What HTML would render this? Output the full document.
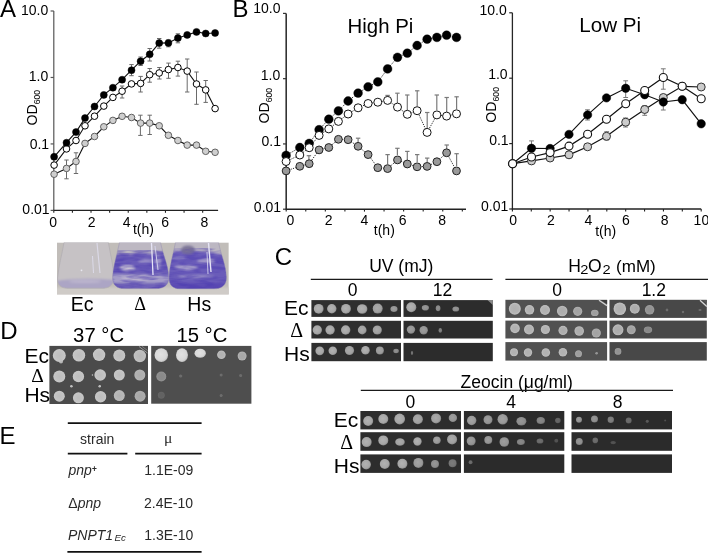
<!DOCTYPE html>
<html><head><meta charset="utf-8"><style>
html,body{margin:0;padding:0;background:#fff;}
body{width:708px;height:553px;overflow:hidden;position:relative;}
svg{position:absolute;left:0;top:0;will-change:transform;filter:blur(0.3px);}
svg text{font-family:"Liberation Sans",sans-serif;}
</style></head><body>
<svg width="708" height="553" viewBox="0 0 708 553">
<defs>
<radialGradient id="spA" cx="0.45" cy="0.45" r="0.6"><stop offset="0" stop-color="#b2b2b2"/><stop offset="0.7" stop-color="#a6a6a6"/><stop offset="1" stop-color="#808080"/></radialGradient>
<radialGradient id="spB" cx="0.5" cy="0.5" r="0.55"><stop offset="0" stop-color="#bdbdbd"/><stop offset="0.7" stop-color="#c4c4c4"/><stop offset="0.9" stop-color="#c8c8c8"/><stop offset="1" stop-color="#a0a0a0"/></radialGradient>
<radialGradient id="spC" cx="0.5" cy="0.5" r="0.55"><stop offset="0" stop-color="#b0b0b0"/><stop offset="0.6" stop-color="#b4b4b4"/><stop offset="0.88" stop-color="#c0c0c0"/><stop offset="1" stop-color="#9a9a9a"/></radialGradient>
<radialGradient id="spD" cx="0.45" cy="0.45" r="0.6"><stop offset="0" stop-color="#e2e2e2"/><stop offset="0.7" stop-color="#d8d8d8"/><stop offset="1" stop-color="#b8b8b8"/></radialGradient>
<filter id="bl" x="-20%" y="-20%" width="140%" height="140%"><feGaussianBlur stdDeviation="0.55"/></filter>
<filter id="bl2" x="-30%" y="-30%" width="160%" height="160%"><feGaussianBlur stdDeviation="1.2"/></filter>
<filter id="bl3" x="-30%" y="-30%" width="160%" height="160%"><feGaussianBlur stdDeviation="2.2"/></filter>
</defs>
<text x="0.1" y="16.6" font-size="24" text-anchor="start" fill="#000" >A</text>
<text x="232.5" y="16.9" font-size="24" text-anchor="start" fill="#000" >B</text>
<text x="274.8" y="265.4" font-size="24" text-anchor="start" fill="#000" >C</text>
<text x="0.3" y="338.9" font-size="24" text-anchor="start" fill="#000" >D</text>
<text x="-0.4" y="443.9" font-size="24" text-anchor="start" fill="#000" >E</text>
<line x1="53.8" y1="11.0" x2="53.8" y2="210.4" stroke="#555" stroke-width="1.2"/>
<line x1="53.199999999999996" y1="210.4" x2="218.1" y2="210.4" stroke="#222" stroke-width="1.4"/>
<line x1="50.599999999999994" y1="11.00" x2="53.8" y2="11.00" stroke="#555" stroke-width="1.2"/>
<line x1="50.599999999999994" y1="77.47" x2="53.8" y2="77.47" stroke="#555" stroke-width="1.2"/>
<line x1="50.599999999999994" y1="143.93" x2="53.8" y2="143.93" stroke="#555" stroke-width="1.2"/>
<line x1="50.599999999999994" y1="210.40" x2="53.8" y2="210.40" stroke="#555" stroke-width="1.2"/>
<line x1="53.80" y1="210.4" x2="53.80" y2="212.8" stroke="#222" stroke-width="1.1"/>
<line x1="72.41" y1="210.4" x2="72.41" y2="212.8" stroke="#222" stroke-width="1.1"/>
<line x1="91.02" y1="210.4" x2="91.02" y2="212.8" stroke="#222" stroke-width="1.1"/>
<line x1="109.63" y1="210.4" x2="109.63" y2="212.8" stroke="#222" stroke-width="1.1"/>
<line x1="128.24" y1="210.4" x2="128.24" y2="212.8" stroke="#222" stroke-width="1.1"/>
<line x1="146.85" y1="210.4" x2="146.85" y2="212.8" stroke="#222" stroke-width="1.1"/>
<line x1="165.46" y1="210.4" x2="165.46" y2="212.8" stroke="#222" stroke-width="1.1"/>
<line x1="184.07" y1="210.4" x2="184.07" y2="212.8" stroke="#222" stroke-width="1.1"/>
<line x1="202.68" y1="210.4" x2="202.68" y2="212.8" stroke="#222" stroke-width="1.1"/>
<text x="48.3" y="14.8" font-size="14" text-anchor="end" fill="#000" >10.0</text>
<text x="48.2" y="81.0" font-size="14" text-anchor="end" fill="#000" >1.0</text>
<text x="49.1" y="148.9" font-size="14" text-anchor="end" fill="#000" >0.1</text>
<text x="49.6" y="213.6" font-size="14" text-anchor="end" fill="#000" >0.01</text>
<text x="53.2" y="226.6" font-size="14" text-anchor="middle" fill="#000" >0</text>
<text x="91.6" y="226.6" font-size="14" text-anchor="middle" fill="#000" >2</text>
<text x="126.6" y="226.6" font-size="14" text-anchor="middle" fill="#000" >4</text>
<text x="165.1" y="226.6" font-size="14" text-anchor="middle" fill="#000" >6</text>
<text x="204.4" y="226.6" font-size="14" text-anchor="middle" fill="#000" >8</text>
<text x="132.9" y="234.3" font-size="14" text-anchor="start" fill="#000" >t(h)</text>
<text transform="translate(37.3,125.6) rotate(-90)" font-size="14.2">OD<tspan font-size="8.6" dy="3.1">600</tspan></text>
<line x1="286.2" y1="13.4" x2="286.2" y2="209.2" stroke="#333" stroke-width="1.6"/>
<line x1="285.59999999999997" y1="209.2" x2="466.0" y2="209.2" stroke="#222" stroke-width="1.4"/>
<line x1="283.0" y1="13.40" x2="286.2" y2="13.40" stroke="#333" stroke-width="1.2"/>
<line x1="283.0" y1="78.67" x2="286.2" y2="78.67" stroke="#333" stroke-width="1.2"/>
<line x1="283.0" y1="143.93" x2="286.2" y2="143.93" stroke="#333" stroke-width="1.2"/>
<line x1="283.0" y1="209.20" x2="286.2" y2="209.20" stroke="#333" stroke-width="1.2"/>
<line x1="286.20" y1="209.2" x2="286.20" y2="211.6" stroke="#222" stroke-width="1.1"/>
<line x1="305.77" y1="209.2" x2="305.77" y2="211.6" stroke="#222" stroke-width="1.1"/>
<line x1="325.34" y1="209.2" x2="325.34" y2="211.6" stroke="#222" stroke-width="1.1"/>
<line x1="344.91" y1="209.2" x2="344.91" y2="211.6" stroke="#222" stroke-width="1.1"/>
<line x1="364.48" y1="209.2" x2="364.48" y2="211.6" stroke="#222" stroke-width="1.1"/>
<line x1="384.05" y1="209.2" x2="384.05" y2="211.6" stroke="#222" stroke-width="1.1"/>
<line x1="403.62" y1="209.2" x2="403.62" y2="211.6" stroke="#222" stroke-width="1.1"/>
<line x1="423.19" y1="209.2" x2="423.19" y2="211.6" stroke="#222" stroke-width="1.1"/>
<line x1="442.76" y1="209.2" x2="442.76" y2="211.6" stroke="#222" stroke-width="1.1"/>
<line x1="462.33" y1="209.2" x2="462.33" y2="211.6" stroke="#222" stroke-width="1.1"/>
<text x="280.5" y="13.0" font-size="14" text-anchor="end" fill="#000" >10.0</text>
<text x="280.3" y="79.5" font-size="14" text-anchor="end" fill="#000" >1.0</text>
<text x="281.0" y="146.4" font-size="14" text-anchor="end" fill="#000" >0.1</text>
<text x="281.1" y="212.1" font-size="14" text-anchor="end" fill="#000" >0.01</text>
<text x="290.5" y="225.0" font-size="14" text-anchor="middle" fill="#000" >0</text>
<text x="328.7" y="225.0" font-size="14" text-anchor="middle" fill="#000" >2</text>
<text x="364.3" y="225.0" font-size="14" text-anchor="middle" fill="#000" >4</text>
<text x="402.6" y="225.0" font-size="14" text-anchor="middle" fill="#000" >6</text>
<text x="442.2" y="225.0" font-size="14" text-anchor="middle" fill="#000" >8</text>
<text x="373.8" y="235.3" font-size="14" text-anchor="start" fill="#000" >t(h)</text>
<text transform="translate(269.2,123.6) rotate(-90)" font-size="14.2">OD<tspan font-size="8.6" dy="3.1">600</tspan></text>
<line x1="512.4" y1="12.8" x2="512.4" y2="209.0" stroke="#262626" stroke-width="1.3"/>
<line x1="511.79999999999995" y1="209.0" x2="701.2" y2="209.0" stroke="#222" stroke-width="1.4"/>
<line x1="509.2" y1="12.80" x2="512.4" y2="12.80" stroke="#262626" stroke-width="1.2"/>
<line x1="509.2" y1="78.20" x2="512.4" y2="78.20" stroke="#262626" stroke-width="1.2"/>
<line x1="509.2" y1="143.60" x2="512.4" y2="143.60" stroke="#262626" stroke-width="1.2"/>
<line x1="509.2" y1="209.00" x2="512.4" y2="209.00" stroke="#262626" stroke-width="1.2"/>
<line x1="512.40" y1="209.0" x2="512.40" y2="211.4" stroke="#222" stroke-width="1.1"/>
<line x1="531.28" y1="209.0" x2="531.28" y2="211.4" stroke="#222" stroke-width="1.1"/>
<line x1="550.16" y1="209.0" x2="550.16" y2="211.4" stroke="#222" stroke-width="1.1"/>
<line x1="569.04" y1="209.0" x2="569.04" y2="211.4" stroke="#222" stroke-width="1.1"/>
<line x1="587.92" y1="209.0" x2="587.92" y2="211.4" stroke="#222" stroke-width="1.1"/>
<line x1="606.80" y1="209.0" x2="606.80" y2="211.4" stroke="#222" stroke-width="1.1"/>
<line x1="625.68" y1="209.0" x2="625.68" y2="211.4" stroke="#222" stroke-width="1.1"/>
<line x1="644.56" y1="209.0" x2="644.56" y2="211.4" stroke="#222" stroke-width="1.1"/>
<line x1="663.44" y1="209.0" x2="663.44" y2="211.4" stroke="#222" stroke-width="1.1"/>
<line x1="682.32" y1="209.0" x2="682.32" y2="211.4" stroke="#222" stroke-width="1.1"/>
<line x1="701.20" y1="209.0" x2="701.20" y2="211.4" stroke="#222" stroke-width="1.1"/>
<text x="506.7" y="14.5" font-size="14" text-anchor="end" fill="#000" >10.0</text>
<text x="507.6" y="78.6" font-size="14" text-anchor="end" fill="#000" >1.0</text>
<text x="508.6" y="145.4" font-size="14" text-anchor="end" fill="#000" >0.1</text>
<text x="508.3" y="210.8" font-size="14" text-anchor="end" fill="#000" >0.01</text>
<text x="513.2" y="224.6" font-size="14" text-anchor="middle" fill="#000" >0</text>
<text x="551.0" y="224.6" font-size="14" text-anchor="middle" fill="#000" >2</text>
<text x="588.5" y="224.6" font-size="14" text-anchor="middle" fill="#000" >4</text>
<text x="626.0" y="224.6" font-size="14" text-anchor="middle" fill="#000" >6</text>
<text x="664.6" y="224.6" font-size="14" text-anchor="middle" fill="#000" >8</text>
<text x="701.4" y="224.6" font-size="14" text-anchor="middle" fill="#000" >10</text>
<text x="595.2" y="236.2" font-size="14" text-anchor="start" fill="#000" >t(h)</text>
<text transform="translate(496.1,122.7) rotate(-90)" font-size="14.2">OD<tspan font-size="8.6" dy="3.1">600</tspan></text>
<text x="347.6" y="32.5" font-size="20.4" text-anchor="start" fill="#000" >High Pi</text>
<text x="579.3" y="32.4" font-size="20.6" text-anchor="start" fill="#000" >Low Pi</text>
<line x1="66.5" y1="160.0" x2="66.5" y2="178.8" stroke="#6a6a6a" stroke-width="1.0"/>
<line x1="64.3" y1="160.0" x2="68.7" y2="160.0" stroke="#6a6a6a" stroke-width="1.0"/>
<line x1="64.3" y1="178.8" x2="68.7" y2="178.8" stroke="#6a6a6a" stroke-width="1.0"/>
<line x1="76.0" y1="152.8" x2="76.0" y2="173.5" stroke="#6a6a6a" stroke-width="1.0"/>
<line x1="73.8" y1="152.8" x2="78.2" y2="152.8" stroke="#6a6a6a" stroke-width="1.0"/>
<line x1="73.8" y1="173.5" x2="78.2" y2="173.5" stroke="#6a6a6a" stroke-width="1.0"/>
<line x1="140.4" y1="115.2" x2="140.4" y2="135.4" stroke="#6a6a6a" stroke-width="1.0"/>
<line x1="138.20000000000002" y1="115.2" x2="142.6" y2="115.2" stroke="#6a6a6a" stroke-width="1.0"/>
<line x1="138.20000000000002" y1="135.4" x2="142.6" y2="135.4" stroke="#6a6a6a" stroke-width="1.0"/>
<line x1="149.7" y1="115.2" x2="149.7" y2="134.5" stroke="#6a6a6a" stroke-width="1.0"/>
<line x1="147.5" y1="115.2" x2="151.89999999999998" y2="115.2" stroke="#6a6a6a" stroke-width="1.0"/>
<line x1="147.5" y1="134.5" x2="151.89999999999998" y2="134.5" stroke="#6a6a6a" stroke-width="1.0"/>
<line x1="131.5" y1="64.6" x2="131.5" y2="75.7" stroke="#6a6a6a" stroke-width="1.0"/>
<line x1="129.3" y1="64.6" x2="133.7" y2="64.6" stroke="#6a6a6a" stroke-width="1.0"/>
<line x1="129.3" y1="75.7" x2="133.7" y2="75.7" stroke="#6a6a6a" stroke-width="1.0"/>
<line x1="140.6" y1="57.0" x2="140.6" y2="65.5" stroke="#6a6a6a" stroke-width="1.0"/>
<line x1="138.4" y1="57.0" x2="142.79999999999998" y2="57.0" stroke="#6a6a6a" stroke-width="1.0"/>
<line x1="138.4" y1="65.5" x2="142.79999999999998" y2="65.5" stroke="#6a6a6a" stroke-width="1.0"/>
<line x1="149.7" y1="48.5" x2="149.7" y2="61.0" stroke="#6a6a6a" stroke-width="1.0"/>
<line x1="147.5" y1="48.5" x2="151.89999999999998" y2="48.5" stroke="#6a6a6a" stroke-width="1.0"/>
<line x1="147.5" y1="61.0" x2="151.89999999999998" y2="61.0" stroke="#6a6a6a" stroke-width="1.0"/>
<line x1="159.2" y1="38.5" x2="159.2" y2="48.2" stroke="#6a6a6a" stroke-width="1.0"/>
<line x1="157.0" y1="38.5" x2="161.39999999999998" y2="38.5" stroke="#6a6a6a" stroke-width="1.0"/>
<line x1="157.0" y1="48.2" x2="161.39999999999998" y2="48.2" stroke="#6a6a6a" stroke-width="1.0"/>
<line x1="177.9" y1="33.8" x2="177.9" y2="42.8" stroke="#6a6a6a" stroke-width="1.0"/>
<line x1="175.70000000000002" y1="33.8" x2="180.1" y2="33.8" stroke="#6a6a6a" stroke-width="1.0"/>
<line x1="175.70000000000002" y1="42.8" x2="180.1" y2="42.8" stroke="#6a6a6a" stroke-width="1.0"/>
<line x1="168.4" y1="40.0" x2="168.4" y2="46.8" stroke="#6a6a6a" stroke-width="1.0"/>
<line x1="166.20000000000002" y1="40.0" x2="170.6" y2="40.0" stroke="#6a6a6a" stroke-width="1.0"/>
<line x1="166.20000000000002" y1="46.8" x2="170.6" y2="46.8" stroke="#6a6a6a" stroke-width="1.0"/>
<line x1="122.1" y1="86.0" x2="122.1" y2="98.0" stroke="#6a6a6a" stroke-width="1.0"/>
<line x1="119.89999999999999" y1="86.0" x2="124.3" y2="86.0" stroke="#6a6a6a" stroke-width="1.0"/>
<line x1="119.89999999999999" y1="98.0" x2="124.3" y2="98.0" stroke="#6a6a6a" stroke-width="1.0"/>
<line x1="140.6" y1="76.4" x2="140.6" y2="92.0" stroke="#6a6a6a" stroke-width="1.0"/>
<line x1="138.4" y1="76.4" x2="142.79999999999998" y2="76.4" stroke="#6a6a6a" stroke-width="1.0"/>
<line x1="138.4" y1="92.0" x2="142.79999999999998" y2="92.0" stroke="#6a6a6a" stroke-width="1.0"/>
<line x1="149.7" y1="68.5" x2="149.7" y2="82.2" stroke="#6a6a6a" stroke-width="1.0"/>
<line x1="147.5" y1="68.5" x2="151.89999999999998" y2="68.5" stroke="#6a6a6a" stroke-width="1.0"/>
<line x1="147.5" y1="82.2" x2="151.89999999999998" y2="82.2" stroke="#6a6a6a" stroke-width="1.0"/>
<line x1="159.4" y1="67.5" x2="159.4" y2="79.0" stroke="#6a6a6a" stroke-width="1.0"/>
<line x1="157.20000000000002" y1="67.5" x2="161.6" y2="67.5" stroke="#6a6a6a" stroke-width="1.0"/>
<line x1="157.20000000000002" y1="79.0" x2="161.6" y2="79.0" stroke="#6a6a6a" stroke-width="1.0"/>
<line x1="168.5" y1="63.1" x2="168.5" y2="78.3" stroke="#6a6a6a" stroke-width="1.0"/>
<line x1="166.3" y1="63.1" x2="170.7" y2="63.1" stroke="#6a6a6a" stroke-width="1.0"/>
<line x1="166.3" y1="78.3" x2="170.7" y2="78.3" stroke="#6a6a6a" stroke-width="1.0"/>
<line x1="177.9" y1="61.2" x2="177.9" y2="76.1" stroke="#6a6a6a" stroke-width="1.0"/>
<line x1="175.70000000000002" y1="61.2" x2="180.1" y2="61.2" stroke="#6a6a6a" stroke-width="1.0"/>
<line x1="175.70000000000002" y1="76.1" x2="180.1" y2="76.1" stroke="#6a6a6a" stroke-width="1.0"/>
<line x1="187.2" y1="59.0" x2="187.2" y2="92.0" stroke="#6a6a6a" stroke-width="1.0"/>
<line x1="185.0" y1="59.0" x2="189.39999999999998" y2="59.0" stroke="#6a6a6a" stroke-width="1.0"/>
<line x1="185.0" y1="92.0" x2="189.39999999999998" y2="92.0" stroke="#6a6a6a" stroke-width="1.0"/>
<line x1="196.5" y1="72.0" x2="196.5" y2="104.3" stroke="#6a6a6a" stroke-width="1.0"/>
<line x1="194.3" y1="72.0" x2="198.7" y2="72.0" stroke="#6a6a6a" stroke-width="1.0"/>
<line x1="194.3" y1="104.3" x2="198.7" y2="104.3" stroke="#6a6a6a" stroke-width="1.0"/>
<line x1="205.7" y1="80.5" x2="205.7" y2="102.4" stroke="#6a6a6a" stroke-width="1.0"/>
<line x1="203.5" y1="80.5" x2="207.89999999999998" y2="80.5" stroke="#6a6a6a" stroke-width="1.0"/>
<line x1="203.5" y1="102.4" x2="207.89999999999998" y2="102.4" stroke="#6a6a6a" stroke-width="1.0"/>
<polyline points="54.1,174.2 66.5,168.4 76.0,161.5 85.0,143.4 94.5,136.5 103.8,126.8 112.9,120.4 122.1,116.3 131.5,117.5 140.6,123.1 149.7,123.1 159.2,125.8 168.4,135.3 177.9,140.5 187.2,145.1 196.5,145.1 205.7,151.3 215.1,152.3" fill="none" stroke="#111" stroke-width="1.1"/>
<polyline points="54.1,165.1 66.5,148.9 76.0,140.5 85.0,125.8 94.5,116.2 103.8,106.1 112.9,97.4 122.1,91.2 131.5,83.9 140.6,83.4 149.7,74.7 159.2,73.0 168.4,69.6 177.9,67.5 187.2,71.1 196.5,84.0 205.7,89.9 215.1,108.6" fill="none" stroke="#111" stroke-width="1.1"/>
<polyline points="54.1,156.8 66.5,142.7 76.0,132.1 85.0,118.1 94.5,106.5 103.8,94.9 112.9,87.7 122.1,79.7 131.5,70.2 140.6,61.2 149.7,54.3 159.2,43.1 168.4,42.9 177.9,38.1 187.2,34.9 196.5,31.9 205.7,33.5 215.1,33.0" fill="none" stroke="#111" stroke-width="1.1"/>
<circle cx="54.1" cy="174.2" r="3.3" fill="#cfcfcf" stroke="#555" stroke-width="0.9"/>
<circle cx="66.5" cy="168.4" r="3.3" fill="#cfcfcf" stroke="#555" stroke-width="0.9"/>
<circle cx="76.0" cy="161.5" r="3.3" fill="#cfcfcf" stroke="#555" stroke-width="0.9"/>
<circle cx="85.0" cy="143.4" r="3.3" fill="#cfcfcf" stroke="#555" stroke-width="0.9"/>
<circle cx="94.5" cy="136.5" r="3.3" fill="#cfcfcf" stroke="#555" stroke-width="0.9"/>
<circle cx="103.8" cy="126.8" r="3.3" fill="#cfcfcf" stroke="#555" stroke-width="0.9"/>
<circle cx="112.9" cy="120.4" r="3.3" fill="#cfcfcf" stroke="#555" stroke-width="0.9"/>
<circle cx="122.1" cy="116.3" r="3.3" fill="#cfcfcf" stroke="#555" stroke-width="0.9"/>
<circle cx="131.5" cy="117.5" r="3.3" fill="#cfcfcf" stroke="#555" stroke-width="0.9"/>
<circle cx="140.6" cy="123.1" r="3.3" fill="#cfcfcf" stroke="#555" stroke-width="0.9"/>
<circle cx="149.7" cy="123.1" r="3.3" fill="#cfcfcf" stroke="#555" stroke-width="0.9"/>
<circle cx="159.2" cy="125.8" r="3.3" fill="#cfcfcf" stroke="#555" stroke-width="0.9"/>
<circle cx="168.4" cy="135.3" r="3.3" fill="#cfcfcf" stroke="#555" stroke-width="0.9"/>
<circle cx="177.9" cy="140.5" r="3.3" fill="#cfcfcf" stroke="#555" stroke-width="0.9"/>
<circle cx="187.2" cy="145.1" r="3.3" fill="#cfcfcf" stroke="#555" stroke-width="0.9"/>
<circle cx="196.5" cy="145.1" r="3.3" fill="#cfcfcf" stroke="#555" stroke-width="0.9"/>
<circle cx="205.7" cy="151.3" r="3.3" fill="#cfcfcf" stroke="#555" stroke-width="0.9"/>
<circle cx="215.1" cy="152.3" r="3.3" fill="#cfcfcf" stroke="#555" stroke-width="0.9"/>
<circle cx="54.1" cy="165.1" r="3.3" fill="#fff" stroke="#000" stroke-width="1.0"/>
<circle cx="66.5" cy="148.9" r="3.3" fill="#fff" stroke="#000" stroke-width="1.0"/>
<circle cx="76.0" cy="140.5" r="3.3" fill="#fff" stroke="#000" stroke-width="1.0"/>
<circle cx="85.0" cy="125.8" r="3.3" fill="#fff" stroke="#000" stroke-width="1.0"/>
<circle cx="94.5" cy="116.2" r="3.3" fill="#fff" stroke="#000" stroke-width="1.0"/>
<circle cx="103.8" cy="106.1" r="3.3" fill="#fff" stroke="#000" stroke-width="1.0"/>
<circle cx="112.9" cy="97.4" r="3.3" fill="#fff" stroke="#000" stroke-width="1.0"/>
<circle cx="122.1" cy="91.2" r="3.3" fill="#fff" stroke="#000" stroke-width="1.0"/>
<circle cx="131.5" cy="83.9" r="3.3" fill="#fff" stroke="#000" stroke-width="1.0"/>
<circle cx="140.6" cy="83.4" r="3.3" fill="#fff" stroke="#000" stroke-width="1.0"/>
<circle cx="149.7" cy="74.7" r="3.3" fill="#fff" stroke="#000" stroke-width="1.0"/>
<circle cx="159.2" cy="73.0" r="3.3" fill="#fff" stroke="#000" stroke-width="1.0"/>
<circle cx="168.4" cy="69.6" r="3.3" fill="#fff" stroke="#000" stroke-width="1.0"/>
<circle cx="177.9" cy="67.5" r="3.3" fill="#fff" stroke="#000" stroke-width="1.0"/>
<circle cx="187.2" cy="71.1" r="3.3" fill="#fff" stroke="#000" stroke-width="1.0"/>
<circle cx="196.5" cy="84.0" r="3.3" fill="#fff" stroke="#000" stroke-width="1.0"/>
<circle cx="205.7" cy="89.9" r="3.3" fill="#fff" stroke="#000" stroke-width="1.0"/>
<circle cx="215.1" cy="108.6" r="3.3" fill="#fff" stroke="#000" stroke-width="1.0"/>
<circle cx="54.1" cy="156.8" r="3.5" fill="#000" stroke="#000" stroke-width="0.5"/>
<circle cx="66.5" cy="142.7" r="3.5" fill="#000" stroke="#000" stroke-width="0.5"/>
<circle cx="76.0" cy="132.1" r="3.5" fill="#000" stroke="#000" stroke-width="0.5"/>
<circle cx="85.0" cy="118.1" r="3.5" fill="#000" stroke="#000" stroke-width="0.5"/>
<circle cx="94.5" cy="106.5" r="3.5" fill="#000" stroke="#000" stroke-width="0.5"/>
<circle cx="103.8" cy="94.9" r="3.5" fill="#000" stroke="#000" stroke-width="0.5"/>
<circle cx="112.9" cy="87.7" r="3.5" fill="#000" stroke="#000" stroke-width="0.5"/>
<circle cx="122.1" cy="79.7" r="3.5" fill="#000" stroke="#000" stroke-width="0.5"/>
<circle cx="131.5" cy="70.2" r="3.5" fill="#000" stroke="#000" stroke-width="0.5"/>
<circle cx="140.6" cy="61.2" r="3.5" fill="#000" stroke="#000" stroke-width="0.5"/>
<circle cx="149.7" cy="54.3" r="3.5" fill="#000" stroke="#000" stroke-width="0.5"/>
<circle cx="159.2" cy="43.1" r="3.5" fill="#000" stroke="#000" stroke-width="0.5"/>
<circle cx="168.4" cy="42.9" r="3.5" fill="#000" stroke="#000" stroke-width="0.5"/>
<circle cx="177.9" cy="38.1" r="3.5" fill="#000" stroke="#000" stroke-width="0.5"/>
<circle cx="187.2" cy="34.9" r="3.5" fill="#000" stroke="#000" stroke-width="0.5"/>
<circle cx="196.5" cy="31.9" r="3.5" fill="#000" stroke="#000" stroke-width="0.5"/>
<circle cx="205.7" cy="33.5" r="3.5" fill="#000" stroke="#000" stroke-width="0.5"/>
<circle cx="215.1" cy="33.0" r="3.5" fill="#000" stroke="#000" stroke-width="0.5"/>
<line x1="387.6" y1="95.4" x2="387.6" y2="100" stroke="#7a7a7a" stroke-width="1.2"/>
<line x1="385.40000000000003" y1="95.4" x2="389.8" y2="95.4" stroke="#7a7a7a" stroke-width="1.2"/>
<line x1="397.4" y1="93.2" x2="397.4" y2="103" stroke="#7a7a7a" stroke-width="1.2"/>
<line x1="395.2" y1="93.2" x2="399.59999999999997" y2="93.2" stroke="#7a7a7a" stroke-width="1.2"/>
<line x1="407.3" y1="95.0" x2="407.3" y2="110" stroke="#7a7a7a" stroke-width="1.2"/>
<line x1="405.1" y1="95.0" x2="409.5" y2="95.0" stroke="#7a7a7a" stroke-width="1.2"/>
<line x1="417.2" y1="90.8" x2="417.2" y2="106" stroke="#7a7a7a" stroke-width="1.2"/>
<line x1="415.0" y1="90.8" x2="419.4" y2="90.8" stroke="#7a7a7a" stroke-width="1.2"/>
<line x1="427.2" y1="112.5" x2="427.2" y2="128" stroke="#7a7a7a" stroke-width="1.2"/>
<line x1="425.0" y1="112.5" x2="429.4" y2="112.5" stroke="#7a7a7a" stroke-width="1.2"/>
<line x1="436.8" y1="95.0" x2="436.8" y2="110" stroke="#7a7a7a" stroke-width="1.2"/>
<line x1="434.6" y1="95.0" x2="439.0" y2="95.0" stroke="#7a7a7a" stroke-width="1.2"/>
<line x1="446.7" y1="97.5" x2="446.7" y2="112" stroke="#7a7a7a" stroke-width="1.2"/>
<line x1="444.5" y1="97.5" x2="448.9" y2="97.5" stroke="#7a7a7a" stroke-width="1.2"/>
<line x1="456.6" y1="96.8" x2="456.6" y2="109" stroke="#7a7a7a" stroke-width="1.2"/>
<line x1="454.40000000000003" y1="96.8" x2="458.8" y2="96.8" stroke="#7a7a7a" stroke-width="1.2"/>
<line x1="308.9" y1="155.7" x2="308.9" y2="160" stroke="#7a7a7a" stroke-width="1.2"/>
<line x1="306.7" y1="155.7" x2="311.09999999999997" y2="155.7" stroke="#7a7a7a" stroke-width="1.2"/>
<line x1="358.1" y1="138.2" x2="358.1" y2="142" stroke="#7a7a7a" stroke-width="1.2"/>
<line x1="355.90000000000003" y1="138.2" x2="360.3" y2="138.2" stroke="#7a7a7a" stroke-width="1.2"/>
<line x1="387.6" y1="154.6" x2="387.6" y2="164" stroke="#7a7a7a" stroke-width="1.2"/>
<line x1="385.40000000000003" y1="154.6" x2="389.8" y2="154.6" stroke="#7a7a7a" stroke-width="1.2"/>
<line x1="397.4" y1="148.3" x2="397.4" y2="155" stroke="#7a7a7a" stroke-width="1.2"/>
<line x1="395.2" y1="148.3" x2="399.59999999999997" y2="148.3" stroke="#7a7a7a" stroke-width="1.2"/>
<line x1="407.3" y1="151.4" x2="407.3" y2="160" stroke="#7a7a7a" stroke-width="1.2"/>
<line x1="405.1" y1="151.4" x2="409.5" y2="151.4" stroke="#7a7a7a" stroke-width="1.2"/>
<line x1="417.2" y1="154.6" x2="417.2" y2="162" stroke="#7a7a7a" stroke-width="1.2"/>
<line x1="415.0" y1="154.6" x2="419.4" y2="154.6" stroke="#7a7a7a" stroke-width="1.2"/>
<line x1="427.2" y1="158.1" x2="427.2" y2="162" stroke="#7a7a7a" stroke-width="1.2"/>
<line x1="425.0" y1="158.1" x2="429.4" y2="158.1" stroke="#7a7a7a" stroke-width="1.2"/>
<line x1="446.7" y1="145.0" x2="446.7" y2="149" stroke="#7a7a7a" stroke-width="1.2"/>
<line x1="444.5" y1="145.0" x2="448.9" y2="145.0" stroke="#7a7a7a" stroke-width="1.2"/>
<line x1="456.6" y1="153.7" x2="456.6" y2="166" stroke="#7a7a7a" stroke-width="1.2"/>
<line x1="454.40000000000003" y1="153.7" x2="458.8" y2="153.7" stroke="#7a7a7a" stroke-width="1.2"/>
<polyline points="286.1,170.9 299.8,166.3 309.2,163.7 319.1,149.9 328.8,147.5 338.4,139.3 348.1,139.7 358.1,146.3 368.1,154.6 377.8,167.7 387.6,168.6 397.5,159.9 407.3,164.0 417.1,166.8 427.1,166.4 436.9,161.7 446.6,152.8 456.5,170.9" fill="none" stroke="#111" stroke-width="0.9" stroke-dasharray="1.2,1.2"/>
<polyline points="286.1,161.5 299.8,155.0 309.2,147.7 319.1,135.4 328.8,128.9 338.4,121.4 348.1,114.0 358.1,107.8 368.1,103.5 377.8,102.2 387.6,100.4 397.5,107.1 407.3,114.3 417.1,110.7 427.1,132.4 436.9,114.9 446.6,116.1 456.5,113.8" fill="none" stroke="#111" stroke-width="0.9" stroke-dasharray="1.2,1.2"/>
<polyline points="286.1,155.4 299.8,147.5 309.2,143.4 319.1,129.7 328.8,119.2 338.4,110.9 348.1,101.0 358.1,93.1 368.1,86.8 377.8,81.9 387.6,68.9 397.5,57.3 407.3,53.2 417.1,45.5 427.1,39.2 436.9,37.4 446.6,35.2 456.5,37.4" fill="none" stroke="#111" stroke-width="0.9" stroke-dasharray="1.2,1.2"/>
<circle cx="286.1" cy="155.4" r="4.4" fill="#000" stroke="#000" stroke-width="0.4"/>
<circle cx="299.8" cy="147.5" r="4.4" fill="#000" stroke="#000" stroke-width="0.4"/>
<circle cx="309.2" cy="143.4" r="4.4" fill="#000" stroke="#000" stroke-width="0.4"/>
<circle cx="319.1" cy="129.7" r="4.4" fill="#000" stroke="#000" stroke-width="0.4"/>
<circle cx="328.8" cy="119.2" r="4.4" fill="#000" stroke="#000" stroke-width="0.4"/>
<circle cx="338.4" cy="110.9" r="4.4" fill="#000" stroke="#000" stroke-width="0.4"/>
<circle cx="348.1" cy="101.0" r="4.4" fill="#000" stroke="#000" stroke-width="0.4"/>
<circle cx="358.1" cy="93.1" r="4.4" fill="#000" stroke="#000" stroke-width="0.4"/>
<circle cx="368.1" cy="86.8" r="4.4" fill="#000" stroke="#000" stroke-width="0.4"/>
<circle cx="377.8" cy="81.9" r="4.4" fill="#000" stroke="#000" stroke-width="0.4"/>
<circle cx="387.6" cy="68.9" r="4.4" fill="#000" stroke="#000" stroke-width="0.4"/>
<circle cx="397.5" cy="57.3" r="4.4" fill="#000" stroke="#000" stroke-width="0.4"/>
<circle cx="407.3" cy="53.2" r="4.4" fill="#000" stroke="#000" stroke-width="0.4"/>
<circle cx="417.1" cy="45.5" r="4.4" fill="#000" stroke="#000" stroke-width="0.4"/>
<circle cx="427.1" cy="39.2" r="4.4" fill="#000" stroke="#000" stroke-width="0.4"/>
<circle cx="436.9" cy="37.4" r="4.4" fill="#000" stroke="#000" stroke-width="0.4"/>
<circle cx="446.6" cy="35.2" r="4.4" fill="#000" stroke="#000" stroke-width="0.4"/>
<circle cx="456.5" cy="37.4" r="4.4" fill="#000" stroke="#000" stroke-width="0.4"/>
<circle cx="286.1" cy="161.5" r="4.0" fill="#fff" stroke="#111" stroke-width="1.0"/>
<circle cx="299.8" cy="155.0" r="4.0" fill="#fff" stroke="#111" stroke-width="1.0"/>
<circle cx="309.2" cy="147.7" r="4.0" fill="#fff" stroke="#111" stroke-width="1.0"/>
<circle cx="319.1" cy="135.4" r="4.0" fill="#fff" stroke="#111" stroke-width="1.0"/>
<circle cx="328.8" cy="128.9" r="4.0" fill="#fff" stroke="#111" stroke-width="1.0"/>
<circle cx="338.4" cy="121.4" r="4.0" fill="#fff" stroke="#111" stroke-width="1.0"/>
<circle cx="348.1" cy="114.0" r="4.0" fill="#fff" stroke="#111" stroke-width="1.0"/>
<circle cx="358.1" cy="107.8" r="4.0" fill="#fff" stroke="#111" stroke-width="1.0"/>
<circle cx="368.1" cy="103.5" r="4.0" fill="#fff" stroke="#111" stroke-width="1.0"/>
<circle cx="377.8" cy="102.2" r="4.0" fill="#fff" stroke="#111" stroke-width="1.0"/>
<circle cx="387.6" cy="100.4" r="4.0" fill="#fff" stroke="#111" stroke-width="1.0"/>
<circle cx="397.5" cy="107.1" r="4.0" fill="#fff" stroke="#111" stroke-width="1.0"/>
<circle cx="407.3" cy="114.3" r="4.0" fill="#fff" stroke="#111" stroke-width="1.0"/>
<circle cx="417.1" cy="110.7" r="4.0" fill="#fff" stroke="#111" stroke-width="1.0"/>
<circle cx="427.1" cy="132.4" r="4.0" fill="#fff" stroke="#111" stroke-width="1.0"/>
<circle cx="436.9" cy="114.9" r="4.0" fill="#fff" stroke="#111" stroke-width="1.0"/>
<circle cx="446.6" cy="116.1" r="4.0" fill="#fff" stroke="#111" stroke-width="1.0"/>
<circle cx="456.5" cy="113.8" r="4.0" fill="#fff" stroke="#111" stroke-width="1.0"/>
<circle cx="286.1" cy="170.9" r="3.9" fill="#9a9a9a" stroke="#222" stroke-width="1.0"/>
<circle cx="299.8" cy="166.3" r="3.9" fill="#9a9a9a" stroke="#222" stroke-width="1.0"/>
<circle cx="309.2" cy="163.7" r="3.9" fill="#9a9a9a" stroke="#222" stroke-width="1.0"/>
<circle cx="319.1" cy="149.9" r="3.9" fill="#9a9a9a" stroke="#222" stroke-width="1.0"/>
<circle cx="328.8" cy="147.5" r="3.9" fill="#9a9a9a" stroke="#222" stroke-width="1.0"/>
<circle cx="338.4" cy="139.3" r="3.9" fill="#9a9a9a" stroke="#222" stroke-width="1.0"/>
<circle cx="348.1" cy="139.7" r="3.9" fill="#9a9a9a" stroke="#222" stroke-width="1.0"/>
<circle cx="358.1" cy="146.3" r="3.9" fill="#9a9a9a" stroke="#222" stroke-width="1.0"/>
<circle cx="368.1" cy="154.6" r="3.9" fill="#9a9a9a" stroke="#222" stroke-width="1.0"/>
<circle cx="377.8" cy="167.7" r="3.9" fill="#9a9a9a" stroke="#222" stroke-width="1.0"/>
<circle cx="387.6" cy="168.6" r="3.9" fill="#9a9a9a" stroke="#222" stroke-width="1.0"/>
<circle cx="397.5" cy="159.9" r="3.9" fill="#9a9a9a" stroke="#222" stroke-width="1.0"/>
<circle cx="407.3" cy="164.0" r="3.9" fill="#9a9a9a" stroke="#222" stroke-width="1.0"/>
<circle cx="417.1" cy="166.8" r="3.9" fill="#9a9a9a" stroke="#222" stroke-width="1.0"/>
<circle cx="427.1" cy="166.4" r="3.9" fill="#9a9a9a" stroke="#222" stroke-width="1.0"/>
<circle cx="436.9" cy="161.7" r="3.9" fill="#9a9a9a" stroke="#222" stroke-width="1.0"/>
<circle cx="446.6" cy="152.8" r="3.9" fill="#9a9a9a" stroke="#222" stroke-width="1.0"/>
<circle cx="456.5" cy="170.9" r="3.9" fill="#9a9a9a" stroke="#222" stroke-width="1.0"/>
<line x1="531.5" y1="140.9" x2="531.5" y2="150" stroke="#777" stroke-width="1.0"/>
<line x1="529.1" y1="140.9" x2="533.9" y2="140.9" stroke="#777" stroke-width="1.0"/>
<line x1="529.1" y1="150" x2="533.9" y2="150" stroke="#777" stroke-width="1.0"/>
<line x1="587.5" y1="109.8" x2="587.5" y2="120.0" stroke="#777" stroke-width="1.0"/>
<line x1="585.1" y1="109.8" x2="589.9" y2="109.8" stroke="#777" stroke-width="1.0"/>
<line x1="585.1" y1="120.0" x2="589.9" y2="120.0" stroke="#777" stroke-width="1.0"/>
<line x1="625.7" y1="80.8" x2="625.7" y2="97.5" stroke="#777" stroke-width="1.0"/>
<line x1="623.3000000000001" y1="80.8" x2="628.1" y2="80.8" stroke="#777" stroke-width="1.0"/>
<line x1="623.3000000000001" y1="97.5" x2="628.1" y2="97.5" stroke="#777" stroke-width="1.0"/>
<line x1="663.3" y1="68.8" x2="663.3" y2="89.2" stroke="#777" stroke-width="1.0"/>
<line x1="660.9" y1="68.8" x2="665.6999999999999" y2="68.8" stroke="#777" stroke-width="1.0"/>
<line x1="660.9" y1="89.2" x2="665.6999999999999" y2="89.2" stroke="#777" stroke-width="1.0"/>
<line x1="663.3" y1="95" x2="663.3" y2="110.0" stroke="#777" stroke-width="1.0"/>
<line x1="660.9" y1="95" x2="665.6999999999999" y2="95" stroke="#777" stroke-width="1.0"/>
<line x1="660.9" y1="110.0" x2="665.6999999999999" y2="110.0" stroke="#777" stroke-width="1.0"/>
<line x1="606.7" y1="131.7" x2="606.7" y2="140" stroke="#777" stroke-width="1.0"/>
<line x1="604.3000000000001" y1="131.7" x2="609.1" y2="131.7" stroke="#777" stroke-width="1.0"/>
<line x1="604.3000000000001" y1="140" x2="609.1" y2="140" stroke="#777" stroke-width="1.0"/>
<line x1="625.5" y1="118" x2="625.5" y2="127.0" stroke="#777" stroke-width="1.0"/>
<line x1="623.1" y1="118" x2="627.9" y2="118" stroke="#777" stroke-width="1.0"/>
<line x1="623.1" y1="127.0" x2="627.9" y2="127.0" stroke="#777" stroke-width="1.0"/>
<line x1="644.7" y1="105.5" x2="644.7" y2="115.3" stroke="#777" stroke-width="1.0"/>
<line x1="642.3000000000001" y1="105.5" x2="647.1" y2="105.5" stroke="#777" stroke-width="1.0"/>
<line x1="642.3000000000001" y1="115.3" x2="647.1" y2="115.3" stroke="#777" stroke-width="1.0"/>
<polyline points="512.6,163.7 531.5,160.9 550.1,158.0 569.0,154.8 587.6,146.8 606.5,136.3 625.7,122.2 644.7,109.5 663.3,97.5 682.2,86.3 701.2,87.0" fill="none" stroke="#111" stroke-width="1.2"/>
<polyline points="512.6,163.7 531.5,148.3 550.1,148.5 569.0,134.4 587.6,114.9 606.5,97.9 625.7,88.3 644.7,94.7 663.3,102.0 682.2,99.7 701.2,123.8" fill="none" stroke="#111" stroke-width="1.2"/>
<polyline points="512.6,163.7 531.5,157.0 550.1,152.6 569.0,146.1 587.6,134.2 606.5,119.3 625.7,103.7 644.7,90.5 663.3,77.5 682.2,86.2 701.2,98.8" fill="none" stroke="#111" stroke-width="1.2"/>
<circle cx="512.6" cy="163.7" r="4.0" fill="#cccccc" stroke="#333" stroke-width="1.0"/>
<circle cx="531.5" cy="160.9" r="4.0" fill="#cccccc" stroke="#333" stroke-width="1.0"/>
<circle cx="550.1" cy="158.0" r="4.0" fill="#cccccc" stroke="#333" stroke-width="1.0"/>
<circle cx="569.0" cy="154.8" r="4.0" fill="#cccccc" stroke="#333" stroke-width="1.0"/>
<circle cx="587.6" cy="146.8" r="4.0" fill="#cccccc" stroke="#333" stroke-width="1.0"/>
<circle cx="606.5" cy="136.3" r="4.0" fill="#cccccc" stroke="#333" stroke-width="1.0"/>
<circle cx="625.7" cy="122.2" r="4.0" fill="#cccccc" stroke="#333" stroke-width="1.0"/>
<circle cx="644.7" cy="109.5" r="4.0" fill="#cccccc" stroke="#333" stroke-width="1.0"/>
<circle cx="663.3" cy="97.5" r="4.0" fill="#cccccc" stroke="#333" stroke-width="1.0"/>
<circle cx="682.2" cy="86.3" r="4.0" fill="#cccccc" stroke="#333" stroke-width="1.0"/>
<circle cx="701.2" cy="87.0" r="4.0" fill="#cccccc" stroke="#333" stroke-width="1.0"/>
<circle cx="512.6" cy="163.7" r="4.2" fill="#000" stroke="#000" stroke-width="0.5"/>
<circle cx="531.5" cy="148.3" r="4.2" fill="#000" stroke="#000" stroke-width="0.5"/>
<circle cx="550.1" cy="148.5" r="4.2" fill="#000" stroke="#000" stroke-width="0.5"/>
<circle cx="569.0" cy="134.4" r="4.2" fill="#000" stroke="#000" stroke-width="0.5"/>
<circle cx="587.6" cy="114.9" r="4.2" fill="#000" stroke="#000" stroke-width="0.5"/>
<circle cx="606.5" cy="97.9" r="4.2" fill="#000" stroke="#000" stroke-width="0.5"/>
<circle cx="625.7" cy="88.3" r="4.2" fill="#000" stroke="#000" stroke-width="0.5"/>
<circle cx="644.7" cy="94.7" r="4.2" fill="#000" stroke="#000" stroke-width="0.5"/>
<circle cx="663.3" cy="102.0" r="4.2" fill="#000" stroke="#000" stroke-width="0.5"/>
<circle cx="682.2" cy="99.7" r="4.2" fill="#000" stroke="#000" stroke-width="0.5"/>
<circle cx="701.2" cy="123.8" r="4.2" fill="#000" stroke="#000" stroke-width="0.5"/>
<circle cx="512.6" cy="163.7" r="4.0" fill="#fff" stroke="#111" stroke-width="1.1"/>
<circle cx="531.5" cy="157.0" r="4.0" fill="#fff" stroke="#111" stroke-width="1.1"/>
<circle cx="550.1" cy="152.6" r="4.0" fill="#fff" stroke="#111" stroke-width="1.1"/>
<circle cx="569.0" cy="146.1" r="4.0" fill="#fff" stroke="#111" stroke-width="1.1"/>
<circle cx="587.6" cy="134.2" r="4.0" fill="#fff" stroke="#111" stroke-width="1.1"/>
<circle cx="606.5" cy="119.3" r="4.0" fill="#fff" stroke="#111" stroke-width="1.1"/>
<circle cx="625.7" cy="103.7" r="4.0" fill="#fff" stroke="#111" stroke-width="1.1"/>
<circle cx="644.7" cy="90.5" r="4.0" fill="#fff" stroke="#111" stroke-width="1.1"/>
<circle cx="663.3" cy="77.5" r="4.0" fill="#fff" stroke="#111" stroke-width="1.1"/>
<circle cx="682.2" cy="86.2" r="4.0" fill="#fff" stroke="#111" stroke-width="1.1"/>
<circle cx="701.2" cy="98.8" r="4.0" fill="#fff" stroke="#111" stroke-width="1.1"/>
<text x="369.2" y="272.2" font-size="17.5" text-anchor="start" fill="#000" >UV (mJ)</text>
<line x1="310.8" y1="279.4" x2="492.6" y2="279.4" stroke="#1a1a1a" stroke-width="1.4"/>
<text x="352.6" y="296.0" font-size="17.5" text-anchor="middle" fill="#000" >0</text>
<text x="442.6" y="296.0" font-size="17.5" text-anchor="middle" fill="#000" >12</text>
<text x="568.2" y="271.5" font-size="17.5">H</text><text x="588.1" y="271.5" font-size="17.5">O</text>
<text transform="translate(580.2,274.4) scale(1.2,1)" font-size="12.2">2</text><text transform="translate(602.6,274.4) scale(1.2,1)" font-size="12.2">2</text>
<text x="616.1" y="271.5" font-size="17.0" text-anchor="start" fill="#000" >(mM)</text>
<line x1="505.4" y1="279.4" x2="708" y2="279.4" stroke="#1a1a1a" stroke-width="1.4"/>
<text x="557.0" y="296.0" font-size="17.5" text-anchor="middle" fill="#000" >0</text>
<text x="653.8" y="296.0" font-size="17.5" text-anchor="middle" fill="#000" >1.2</text>
<rect x="311.4" y="300.1" width="89.60" height="16.80" fill="#2e2e2e"/>
<g filter="url(#bl)">
<ellipse cx="318.7" cy="308.8" rx="4.9" ry="4.9" fill="url(#spA)" opacity="1"/>
<ellipse cx="331.8" cy="308.8" rx="4.7" ry="4.7" fill="url(#spA)" opacity="1"/>
<ellipse cx="346.0" cy="308.8" rx="4.9" ry="4.9" fill="url(#spA)" opacity="1"/>
<ellipse cx="362.2" cy="309.0" rx="5.2" ry="4.8" fill="url(#spA)" opacity="1"/>
<ellipse cx="377.7" cy="308.6" rx="5.0" ry="5.0" fill="url(#spA)" opacity="0.95"/>
<ellipse cx="394.0" cy="309.0" rx="3.6" ry="3.0" fill="url(#spA)" opacity="0.85"/>
</g>
<rect x="403.5" y="300.1" width="89.30" height="16.80" fill="#2c2c2c"/>
<g filter="url(#bl)">
<ellipse cx="411.3" cy="307.2" rx="5.0" ry="5.0" fill="url(#spA)" opacity="1"/>
<ellipse cx="425.4" cy="307.8" rx="3.6" ry="2.8" fill="url(#spA)" opacity="0.8"/>
<ellipse cx="438.1" cy="308.2" rx="2.4" ry="3.0" fill="url(#spA)" opacity="0.75"/>
<ellipse cx="455.8" cy="309.0" rx="3.4" ry="2.6" fill="url(#spA)" opacity="0.8"/>
</g>
<rect x="311.4" y="320.8" width="89.60" height="17.70" fill="#2e2e2e"/>
<g filter="url(#bl)">
<ellipse cx="317.3" cy="330.0" rx="4.7" ry="4.7" fill="url(#spA)" opacity="1"/>
<ellipse cx="330.1" cy="330.0" rx="4.7" ry="4.7" fill="url(#spA)" opacity="1"/>
<ellipse cx="345.7" cy="330.0" rx="4.7" ry="4.7" fill="url(#spA)" opacity="1"/>
<ellipse cx="362.2" cy="330.0" rx="4.4" ry="4.4" fill="url(#spA)" opacity="0.95"/>
<ellipse cx="377.3" cy="330.0" rx="4.6" ry="4.6" fill="url(#spA)" opacity="0.95"/>
</g>
<rect x="403.5" y="320.8" width="89.30" height="17.70" fill="#2c2c2c"/>
<g filter="url(#bl)">
<ellipse cx="411.0" cy="329.6" rx="4.2" ry="4.2" fill="url(#spA)" opacity="0.85"/>
<ellipse cx="423.7" cy="330.2" rx="4.2" ry="4.2" fill="url(#spA)" opacity="0.85"/>
<ellipse cx="440.3" cy="330.4" rx="1.8" ry="2.4" fill="url(#spA)" opacity="0.65"/>
</g>
<rect x="311.4" y="342.9" width="89.60" height="18.30" fill="#2e2e2e"/>
<g filter="url(#bl)">
<ellipse cx="319.8" cy="350.8" rx="4.4" ry="4.4" fill="url(#spA)" opacity="1"/>
<ellipse cx="332.8" cy="350.8" rx="4.3" ry="4.3" fill="url(#spA)" opacity="1"/>
<ellipse cx="349.5" cy="350.5" rx="4.6" ry="4.6" fill="url(#spA)" opacity="0.95"/>
<ellipse cx="365.5" cy="350.2" rx="4.3" ry="4.3" fill="url(#spA)" opacity="1"/>
<ellipse cx="379.9" cy="350.5" rx="4.0" ry="4.0" fill="url(#spA)" opacity="0.9"/>
<ellipse cx="396.1" cy="351.0" rx="2.8" ry="2.2" fill="url(#spA)" opacity="0.75"/>
</g>
<rect x="403.5" y="342.9" width="89.30" height="18.30" fill="#2c2c2c"/>
<g filter="url(#bl)">
<ellipse cx="412.0" cy="352.9" rx="1.2" ry="2.0" fill="url(#spA)" opacity="0.55"/>
</g>
<rect x="505.4" y="299.8" width="101.70" height="18.10" fill="#515151"/>
<g filter="url(#bl)">
<ellipse cx="514.8" cy="308.7" rx="6.0" ry="6.0" fill="url(#spC)" opacity="1"/>
<ellipse cx="529.5" cy="309.8" rx="4.8" ry="4.8" fill="url(#spC)" opacity="1"/>
<ellipse cx="545.0" cy="310.0" rx="5.0" ry="5.0" fill="url(#spC)" opacity="1"/>
<ellipse cx="562.2" cy="311.0" rx="5.3" ry="5.3" fill="url(#spC)" opacity="0.95"/>
<ellipse cx="577.7" cy="311.3" rx="4.6" ry="4.6" fill="url(#spC)" opacity="0.85"/>
<ellipse cx="594.8" cy="312.9" rx="3.8" ry="3.2" fill="url(#spC)" opacity="0.8"/>
</g>
<rect x="609.5" y="299.8" width="97.30" height="18.10" fill="#484848"/>
<g filter="url(#bl)">
<ellipse cx="619.8" cy="308.7" rx="6.3" ry="6.3" fill="url(#spC)" opacity="1"/>
<ellipse cx="634.8" cy="308.7" rx="5.0" ry="5.0" fill="url(#spC)" opacity="0.95"/>
<ellipse cx="649.6" cy="309.8" rx="4.8" ry="4.8" fill="url(#spC)" opacity="0.7"/>
<ellipse cx="667.0" cy="310.0" rx="1.4" ry="1.4" fill="url(#spC)" opacity="0.35"/>
<ellipse cx="683.0" cy="312.0" rx="1.2" ry="1.2" fill="url(#spC)" opacity="0.35"/>
<ellipse cx="700.0" cy="310.0" rx="1.6" ry="1.0" fill="url(#spC)" opacity="0.35"/>
</g>
<rect x="505.4" y="320.6" width="101.70" height="17.90" fill="#515151"/>
<g filter="url(#bl)">
<ellipse cx="515.0" cy="328.4" rx="4.8" ry="4.8" fill="url(#spC)" opacity="1"/>
<ellipse cx="529.0" cy="329.5" rx="5.0" ry="5.0" fill="url(#spC)" opacity="1"/>
<ellipse cx="545.4" cy="329.5" rx="4.6" ry="4.6" fill="url(#spC)" opacity="1"/>
<ellipse cx="563.0" cy="330.4" rx="4.6" ry="4.6" fill="url(#spC)" opacity="0.95"/>
<ellipse cx="579.2" cy="331.0" rx="4.8" ry="4.8" fill="url(#spC)" opacity="0.95"/>
<ellipse cx="596.3" cy="333.0" rx="4.6" ry="4.6" fill="url(#spC)" opacity="0.85"/>
</g>
<rect x="609.5" y="320.6" width="97.30" height="17.90" fill="#484848"/>
<g filter="url(#bl)">
<ellipse cx="618.0" cy="329.8" rx="5.5" ry="5.5" fill="url(#spC)" opacity="0.95"/>
<ellipse cx="631.3" cy="329.8" rx="4.5" ry="4.5" fill="url(#spC)" opacity="0.85"/>
<ellipse cx="648.0" cy="329.8" rx="4.2" ry="3.4" fill="url(#spC)" opacity="0.6"/>
</g>
<rect x="505.4" y="342.1" width="101.70" height="18.50" fill="#515151"/>
<g filter="url(#bl)">
<ellipse cx="514.0" cy="352.2" rx="4.0" ry="4.0" fill="url(#spC)" opacity="1"/>
<ellipse cx="528.0" cy="352.5" rx="4.2" ry="4.2" fill="url(#spC)" opacity="1"/>
<ellipse cx="545.8" cy="352.5" rx="4.3" ry="4.3" fill="url(#spC)" opacity="1"/>
<ellipse cx="562.9" cy="352.2" rx="4.3" ry="4.3" fill="url(#spC)" opacity="1"/>
<ellipse cx="578.5" cy="353.7" rx="3.5" ry="3.5" fill="url(#spC)" opacity="0.8"/>
<ellipse cx="596.6" cy="353.3" rx="1.3" ry="1.3" fill="url(#spC)" opacity="0.7"/>
</g>
<rect x="609.5" y="342.1" width="97.30" height="18.50" fill="#484848"/>
<g filter="url(#bl)">
<ellipse cx="618.0" cy="351.4" rx="3.4" ry="3.4" fill="url(#spC)" opacity="0.7"/>
</g>
<g filter="url(#bl)">
<path d="M 487.5 300.1 L 492.8 300.1 L 492.8 305 Z" fill="#8a8a8a"/>
<path d="M 601 300.1 L 607.1 300.1 L 607.1 304 Z" fill="#3a3a3a"/>
<line x1="599" y1="300.3" x2="607" y2="305.6" stroke="#d0d0d0" stroke-width="1.3"/>
<path d="M 702 300.1 L 706.8 300.1 L 706.8 303.5 Z" fill="#5a5a5a"/>
<line x1="700" y1="300.3" x2="706.8" y2="306.5" stroke="#d8d8d8" stroke-width="1.3"/>
</g>
<text x="284.0" y="314.9" font-size="21" text-anchor="start" fill="#000" >Ec</text>
<text x="284.0" y="360.6" font-size="21" text-anchor="start" fill="#000" >Hs</text>
<text x="290.3" y="336.8" font-size="20" text-anchor="start" fill="#000" font-family="Liberation Serif" style="font-family:Liberation Serif">Δ</text>
<text x="460.6" y="387.9" font-size="17.5" text-anchor="start" fill="#000" >Zeocin (μg/ml)</text>
<line x1="360.8" y1="390.4" x2="673" y2="390.4" stroke="#1a1a1a" stroke-width="1.4"/>
<text x="410.3" y="407.6" font-size="17.5" text-anchor="middle" fill="#000" >0</text>
<text x="511.0" y="407.6" font-size="17.5" text-anchor="middle" fill="#000" >4</text>
<text x="617.6" y="407.6" font-size="17.5" text-anchor="middle" fill="#000" >8</text>
<rect x="360.4" y="411.0" width="100.60" height="18.40" fill="#2d2d2d"/>
<g filter="url(#bl)">
<ellipse cx="368.2" cy="421.0" rx="5.0" ry="5.0" fill="url(#spA)" opacity="1"/>
<ellipse cx="383.3" cy="419.0" rx="5.0" ry="5.0" fill="url(#spA)" opacity="1"/>
<ellipse cx="399.7" cy="419.0" rx="5.4" ry="5.4" fill="url(#spA)" opacity="1"/>
<ellipse cx="417.9" cy="419.3" rx="5.0" ry="5.0" fill="url(#spA)" opacity="0.95"/>
<ellipse cx="436.1" cy="418.4" rx="5.0" ry="5.0" fill="url(#spA)" opacity="0.95"/>
<ellipse cx="452.9" cy="417.9" rx="4.2" ry="4.2" fill="url(#spA)" opacity="0.85"/>
</g>
<rect x="463.9" y="411.0" width="100.40" height="18.40" fill="#2b2b2b"/>
<g filter="url(#bl)">
<ellipse cx="471.7" cy="420.5" rx="4.7" ry="4.7" fill="url(#spA)" opacity="0.9"/>
<ellipse cx="488.0" cy="419.8" rx="4.5" ry="4.5" fill="url(#spA)" opacity="0.85"/>
<ellipse cx="502.7" cy="419.3" rx="5.2" ry="5.2" fill="url(#spA)" opacity="0.9"/>
<ellipse cx="521.4" cy="421.3" rx="5.0" ry="4.2" fill="url(#spA)" opacity="0.8"/>
<ellipse cx="540.8" cy="420.5" rx="4.2" ry="3.5" fill="url(#spA)" opacity="0.7"/>
<ellipse cx="557.9" cy="420.5" rx="2.8" ry="2.8" fill="url(#spA)" opacity="0.45"/>
</g>
<rect x="571.5" y="411.0" width="100.50" height="18.40" fill="#2b2b2b"/>
<g filter="url(#bl)">
<ellipse cx="579.0" cy="419.8" rx="3.0" ry="3.0" fill="url(#spA)" opacity="0.85"/>
<ellipse cx="594.5" cy="419.0" rx="3.5" ry="3.5" fill="url(#spA)" opacity="0.8"/>
<ellipse cx="610.8" cy="419.8" rx="3.2" ry="3.2" fill="url(#spA)" opacity="0.65"/>
<ellipse cx="628.7" cy="420.5" rx="3.0" ry="3.0" fill="url(#spA)" opacity="0.5"/>
<ellipse cx="647.3" cy="421.3" rx="1.6" ry="1.6" fill="url(#spA)" opacity="0.35"/>
<ellipse cx="665.2" cy="420.5" rx="1.0" ry="1.0" fill="url(#spA)" opacity="0.3"/>
</g>
<rect x="360.4" y="432.2" width="100.60" height="18.60" fill="#2d2d2d"/>
<g filter="url(#bl)">
<ellipse cx="366.7" cy="442.1" rx="5.0" ry="5.0" fill="url(#spA)" opacity="1"/>
<ellipse cx="383.3" cy="440.4" rx="5.0" ry="5.0" fill="url(#spA)" opacity="1"/>
<ellipse cx="400.0" cy="442.0" rx="4.8" ry="3.8" fill="url(#spA)" opacity="0.95"/>
<ellipse cx="417.5" cy="441.5" rx="4.2" ry="4.2" fill="url(#spA)" opacity="1"/>
<ellipse cx="436.9" cy="440.2" rx="3.8" ry="3.8" fill="url(#spA)" opacity="0.9"/>
<ellipse cx="452.1" cy="439.4" rx="5.0" ry="5.0" fill="url(#spA)" opacity="0.95"/>
</g>
<rect x="463.9" y="432.2" width="100.40" height="18.60" fill="#2b2b2b"/>
<g filter="url(#bl)">
<ellipse cx="471.2" cy="441.0" rx="4.5" ry="4.5" fill="url(#spA)" opacity="0.85"/>
<ellipse cx="488.3" cy="440.0" rx="4.0" ry="4.0" fill="url(#spA)" opacity="0.85"/>
<ellipse cx="504.3" cy="442.0" rx="4.8" ry="4.8" fill="url(#spA)" opacity="0.85"/>
<ellipse cx="520.9" cy="442.0" rx="4.0" ry="3.0" fill="url(#spA)" opacity="0.7"/>
<ellipse cx="540.0" cy="441.0" rx="3.4" ry="2.6" fill="url(#spA)" opacity="0.5"/>
<ellipse cx="556.3" cy="440.7" rx="2.0" ry="2.0" fill="url(#spA)" opacity="0.3"/>
</g>
<rect x="571.5" y="432.2" width="100.50" height="18.60" fill="#2b2b2b"/>
<g filter="url(#bl)">
<ellipse cx="579.3" cy="441.5" rx="3.5" ry="3.5" fill="url(#spA)" opacity="0.8"/>
<ellipse cx="595.3" cy="440.4" rx="2.8" ry="2.8" fill="url(#spA)" opacity="0.5"/>
<ellipse cx="613.2" cy="442.6" rx="2.8" ry="1.6" fill="url(#spA)" opacity="0.3"/>
</g>
<rect x="360.4" y="454.4" width="100.60" height="18.50" fill="#2d2d2d"/>
<g filter="url(#bl)">
<ellipse cx="366.2" cy="464.6" rx="4.8" ry="4.8" fill="url(#spA)" opacity="1"/>
<ellipse cx="384.8" cy="464.0" rx="5.0" ry="5.0" fill="url(#spA)" opacity="1"/>
<ellipse cx="402.4" cy="463.7" rx="5.0" ry="5.0" fill="url(#spA)" opacity="1"/>
<ellipse cx="418.4" cy="462.9" rx="5.0" ry="5.0" fill="url(#spA)" opacity="0.9"/>
<ellipse cx="435.0" cy="464.0" rx="4.0" ry="4.0" fill="url(#spA)" opacity="0.8"/>
<ellipse cx="452.6" cy="463.3" rx="4.0" ry="4.0" fill="url(#spA)" opacity="0.6"/>
</g>
<rect x="463.9" y="454.4" width="100.40" height="18.50" fill="#2b2b2b"/>
<g filter="url(#bl)">
<ellipse cx="470.6" cy="462.2" rx="2.0" ry="2.0" fill="url(#spA)" opacity="0.5"/>
</g>
<rect x="571.5" y="454.4" width="100.50" height="18.50" fill="#2b2b2b"/>
<g filter="url(#bl)">
</g>
<text x="333.8" y="427.2" font-size="21" text-anchor="start" fill="#000" >Ec</text>
<text x="333.8" y="473.0" font-size="21" text-anchor="start" fill="#000" >Hs</text>
<text x="340.3" y="448.6" font-size="20" text-anchor="start" fill="#000" font-family="Liberation Serif" style="font-family:Liberation Serif">Δ</text>
<text x="98.6" y="342.2" font-size="20.3" text-anchor="middle" fill="#000" >37 °C</text>
<text x="201.9" y="342.2" font-size="20.3" text-anchor="middle" fill="#000" >15 °C</text>
<rect x="49.4" y="345.9" width="98.60" height="58.10" fill="#4b4b4b"/>
<g filter="url(#bl)">
<ellipse cx="59.3" cy="355.5" rx="6.5" ry="6.5" fill="url(#spB)" opacity="1"/>
<ellipse cx="78.9" cy="355.2" rx="6.3" ry="6.3" fill="url(#spB)" opacity="1"/>
<ellipse cx="99.1" cy="354.8" rx="6.2" ry="6.2" fill="url(#spB)" opacity="1"/>
<ellipse cx="119.3" cy="355.5" rx="6.0" ry="6.0" fill="url(#spB)" opacity="1"/>
<ellipse cx="139.8" cy="356.0" rx="6.2" ry="6.2" fill="url(#spB)" opacity="0.95"/>
<ellipse cx="59.3" cy="376.5" rx="6.0" ry="6.0" fill="url(#spB)" opacity="1"/>
<ellipse cx="78.4" cy="376.5" rx="5.7" ry="5.7" fill="url(#spB)" opacity="1"/>
<ellipse cx="100.2" cy="375.0" rx="5.8" ry="5.8" fill="url(#spB)" opacity="1"/>
<ellipse cx="119.3" cy="375.0" rx="5.5" ry="5.5" fill="url(#spB)" opacity="1"/>
<ellipse cx="139.8" cy="375.0" rx="5.5" ry="5.5" fill="url(#spB)" opacity="0.85"/>
<ellipse cx="59.3" cy="396.2" rx="5.5" ry="5.5" fill="url(#spB)" opacity="1"/>
<ellipse cx="78.4" cy="397.8" rx="5.5" ry="5.5" fill="url(#spB)" opacity="1"/>
<ellipse cx="100.6" cy="396.7" rx="5.7" ry="5.7" fill="url(#spB)" opacity="1"/>
<ellipse cx="119.3" cy="395.6" rx="5.5" ry="5.5" fill="url(#spB)" opacity="0.9"/>
<ellipse cx="140.1" cy="396.2" rx="5.5" ry="5.5" fill="url(#spB)" opacity="0.8"/>
<ellipse cx="71.4" cy="386.3" rx="1.3" ry="1.3" fill="url(#spB)" opacity="1"/>
<ellipse cx="99.7" cy="386.3" rx="1.3" ry="1.3" fill="url(#spB)" opacity="1"/>
<ellipse cx="92.4" cy="375.0" rx="0.8" ry="0.8" fill="url(#spB)" opacity="1"/>
<ellipse cx="61.0" cy="361.5" rx="2.0" ry="2.0" fill="url(#spB)" opacity="0.9"/>
</g>
<line x1="139" y1="346.5" x2="147.5" y2="353" stroke="#9a9a9a" stroke-width="1"/><line x1="142" y1="346.3" x2="147.5" y2="350.5" stroke="#8a8a8a" stroke-width="0.8"/>
<rect x="151.2" y="345.9" width="100.20" height="57.80" fill="#4e4e4e"/>
<g filter="url(#bl)">
<ellipse cx="161.3" cy="355.1" rx="6.8" ry="6.8" fill="url(#spD)" opacity="1"/>
<ellipse cx="182.0" cy="355.1" rx="6.0" ry="6.8" fill="url(#spD)" opacity="1"/>
<ellipse cx="200.2" cy="353.2" rx="5.7" ry="4.5" fill="url(#spD)" opacity="1"/>
<ellipse cx="221.4" cy="354.8" rx="4.3" ry="4.3" fill="url(#spC)" opacity="1"/>
<ellipse cx="242.1" cy="356.0" rx="4.5" ry="4.5" fill="url(#spC)" opacity="0.9"/>
<ellipse cx="161.3" cy="376.5" rx="5.0" ry="5.0" fill="url(#spC)" opacity="0.6"/>
<ellipse cx="180.7" cy="376.0" rx="1.6" ry="1.6" fill="url(#spC)" opacity="0.3"/>
<ellipse cx="221.1" cy="375.0" rx="1.5" ry="1.5" fill="url(#spC)" opacity="0.3"/>
<ellipse cx="240.6" cy="375.4" rx="1.5" ry="1.5" fill="url(#spC)" opacity="0.3"/>
<ellipse cx="161.3" cy="395.2" rx="3.5" ry="3.5" fill="url(#spC)" opacity="0.2"/>
<ellipse cx="221.1" cy="395.6" rx="1.5" ry="1.5" fill="url(#spC)" opacity="0.3"/>
</g>
<text x="24.4" y="362.6" font-size="21" text-anchor="start" fill="#000" >Ec</text>
<text x="24.4" y="401.9" font-size="21" text-anchor="start" fill="#000" >Hs</text>
<text x="31.3" y="382.2" font-size="19.5" text-anchor="start" fill="#000" font-family="Liberation Serif" style="font-family:Liberation Serif">Δ</text>
<filter id="tex" x="0" y="0" width="100%" height="100%"><feTurbulence type="fractalNoise" baseFrequency="0.07 0.3" numOctaves="2" seed="11" result="n"/><feColorMatrix in="n" type="matrix" values="0 0 0 0 0  0 0 0 0 0  0 0 0 0 0  0 0 0 3.2 -1.25" result="a"/><feComposite in="SourceGraphic" in2="a" operator="in" result="c"/><feGaussianBlur in="c" stdDeviation="0.5"/></filter>
<clipPath id="phc"><rect x="57" y="242.4" width="171.8" height="52.2"/></clipPath>
<clipPath id="f1"><path d="M 64 242.4 L 108.4 242.4 C 110.5 255, 113.5 266, 113.8 277 C 114 286, 108 288.2, 102 288.2 L 68 288.2 C 61 288.2, 57 285, 57.6 278 C 58.5 266, 62 255, 64 242.4 Z"/></clipPath><clipPath id="f2"><path d="M 119.5 242.4 L 160.5 242.4 C 163 255, 168.3 265, 168.8 277 C 169.2 286, 163 288.6, 156 288.6 L 124 288.6 C 117 288.6, 112.2 285, 112.6 277 C 113 266, 117 255, 119.5 242.4 Z"/></clipPath><clipPath id="f3"><path d="M 175.5 242.4 L 218.5 242.4 C 221 255, 226 265, 226.4 277 C 226.8 286, 221 288.8, 214 288.8 L 180 288.8 C 173 288.8, 168.6 285, 169 277 C 169.4 266, 173 255, 175.5 242.4 Z"/></clipPath>
<g clip-path="url(#phc)">
<rect x="57" y="242.4" width="171.8" height="52.2" fill="#c1bdb9"/>
<rect x="50" y="287.5" width="185" height="12" fill="#cfcbc7" filter="url(#bl2)"/>
<g clip-path="url(#f1)"><rect x="50" y="240" width="70" height="55" fill="#c6c2c5"/>
<g filter="url(#bl2)">
<path d="M 56 281 Q 80 277 116 280 L 116 292 L 56 292 Z" fill="#aca5c5"/>
<ellipse cx="85" cy="281.5" rx="16" ry="1.6" fill="#bcb5ce"/>
</g></g>
<path d="M 64 242.4 L 108.4 242.4 C 110.5 255, 113.5 266, 113.8 277 C 114 286, 108 288.2, 102 288.2 L 68 288.2 C 61 288.2, 57 285, 57.6 278 C 58.5 266, 62 255, 64 242.4 Z" fill="none" stroke="#b2aeb4" stroke-width="0.8"/>
<g clip-path="url(#f2)"><rect x="105" y="240" width="70" height="55" fill="#bdb8c2"/>
<g filter="url(#bl2)">
<path d="M 108 257 Q 118 252 130 255 Q 140 251 150 254 Q 160 250 172 252 L 172 275 L 108 275 Z" fill="#6a5cb8"/>
<path d="M 108 274 L 172 274 L 172 283.5 L 108 283.5 Z" fill="#a59dc8"/>
<path d="M 108 283 L 172 283 L 172 292 L 108 292 Z" fill="#7063b8"/>
<ellipse cx="127.5" cy="268.0" rx="7.5" ry="2.6" fill="#cbc5d6"/>
<ellipse cx="145" cy="261" rx="7" ry="1.8" fill="#9a90c8"/>
<ellipse cx="135" cy="278.5" rx="14" ry="1.8" fill="#bfb8d0"/>
<ellipse cx="158" cy="262" rx="3" ry="7" fill="#9a90c8"/>
</g>
<rect x="108" y="250" width="64" height="40" fill="#4634ae" filter="url(#tex)" opacity="0.45"/>
</g>
<g clip-path="url(#f3)"><rect x="160" y="240" width="75" height="55" fill="#bcb7c2"/>
<g filter="url(#bl2)">
<path d="M 165 254 Q 178 249 190 251 Q 205 251 230 256 L 230 292 L 165 292 Z" fill="#6a5bb9"/>
<ellipse cx="188" cy="250" rx="7" ry="4.5" fill="#7d7698"/>
<ellipse cx="186" cy="267.5" rx="12" ry="2.2" fill="#aaa2cc"/>
<ellipse cx="206" cy="261" rx="9" ry="2" fill="#a39ac9"/>
<ellipse cx="178" cy="258" rx="7" ry="1.5" fill="#9289c6"/>
<ellipse cx="196" cy="276.5" rx="18" ry="1.6" fill="#958cc6"/>
<rect x="165" y="283" width="65" height="8" fill="#5b4cb4"/>
</g>
<rect x="165" y="248" width="65" height="42" fill="#4634ae" filter="url(#tex)" opacity="0.4"/>
</g>
<path d="M 119.5 242.4 L 160.5 242.4 C 163 255, 168.3 265, 168.8 277 C 169.2 286, 163 288.6, 156 288.6 L 124 288.6 C 117 288.6, 112.2 285, 112.6 277 C 113 266, 117 255, 119.5 242.4 Z" fill="none" stroke="#8e86b0" stroke-width="0.6" opacity="0.7"/>
<path d="M 175.5 242.4 L 218.5 242.4 C 221 255, 226 265, 226.4 277 C 226.8 286, 221 288.8, 214 288.8 L 180 288.8 C 173 288.8, 168.6 285, 169 277 C 169.4 266, 173 255, 175.5 242.4 Z" fill="none" stroke="#8e86b0" stroke-width="0.6" opacity="0.7"/>
<g filter="url(#bl)">
<line x1="151.5" y1="243" x2="153" y2="275" stroke="#e6e4f6" stroke-width="1.3"/>
<line x1="155" y1="246" x2="158" y2="270" stroke="#d6d4ee" stroke-width="0.9"/>
<line x1="208.5" y1="243" x2="211" y2="272" stroke="#e6e4f6" stroke-width="1.4"/>
<line x1="207" y1="252" x2="208" y2="274" stroke="#d6d4ee" stroke-width="0.9"/>
<line x1="97" y1="243" x2="100" y2="273" stroke="#dcdae8" stroke-width="1.1"/>
<line x1="92.5" y1="256" x2="93.5" y2="273" stroke="#dedcec" stroke-width="0.9"/>
<circle cx="81.5" cy="270.3" r="0.9" fill="#e8e8f0"/>
</g>
</g>
<text x="70.8" y="310.6" font-size="19.5" text-anchor="start" fill="#000" >Ec</text>
<text x="134.2" y="309.6" font-size="18.3" text-anchor="start" fill="#000" font-family="Liberation Serif" style="font-family:Liberation Serif">Δ</text>
<text x="187.3" y="310.6" font-size="19.5" text-anchor="start" fill="#000" >Hs</text>
<line x1="67.8" y1="423.1" x2="201.6" y2="423.1" stroke="#111" stroke-width="1.8"/>
<line x1="67.8" y1="453.6" x2="127.4" y2="453.6" stroke="#111" stroke-width="1.8"/>
<line x1="135.2" y1="453.6" x2="201.6" y2="453.6" stroke="#111" stroke-width="1.8"/>
<line x1="67.4" y1="551.9" x2="201.6" y2="551.9" stroke="#111" stroke-width="1.8"/>
<text x="80.1" y="444.0" font-size="14" text-anchor="start" fill="#2a2a2a" >strain</text>
<text x="164.0" y="442.8" font-size="15.5" text-anchor="start" fill="#2a2a2a" style="font-family:Liberation Serif">μ</text>
<text x="68.5" y="475.4" font-size="14" fill="#2a2a2a" font-style="italic">pnp<tspan font-size="8.5" dy="-3.6" font-weight="bold">+</tspan></text>
<text x="144.3" y="475.4" font-size="14" text-anchor="start" fill="#2a2a2a" >1.1E-09</text>
<text x="68.3" y="508.3" font-size="14" fill="#2a2a2a">Δ<tspan font-style="italic">pnp</tspan></text>
<text x="144.0" y="508.3" font-size="14" text-anchor="start" fill="#2a2a2a" >2.4E-10</text>
<text x="68.0" y="539.7" font-size="14" fill="#2a2a2a" font-style="italic">PNPT1<tspan font-size="9.8" dy="1.5" dx="1.3">Ec</tspan></text>
<text x="144.3" y="539.7" font-size="14" text-anchor="start" fill="#2a2a2a" >1.3E-10</text>
</svg>
</body></html>
